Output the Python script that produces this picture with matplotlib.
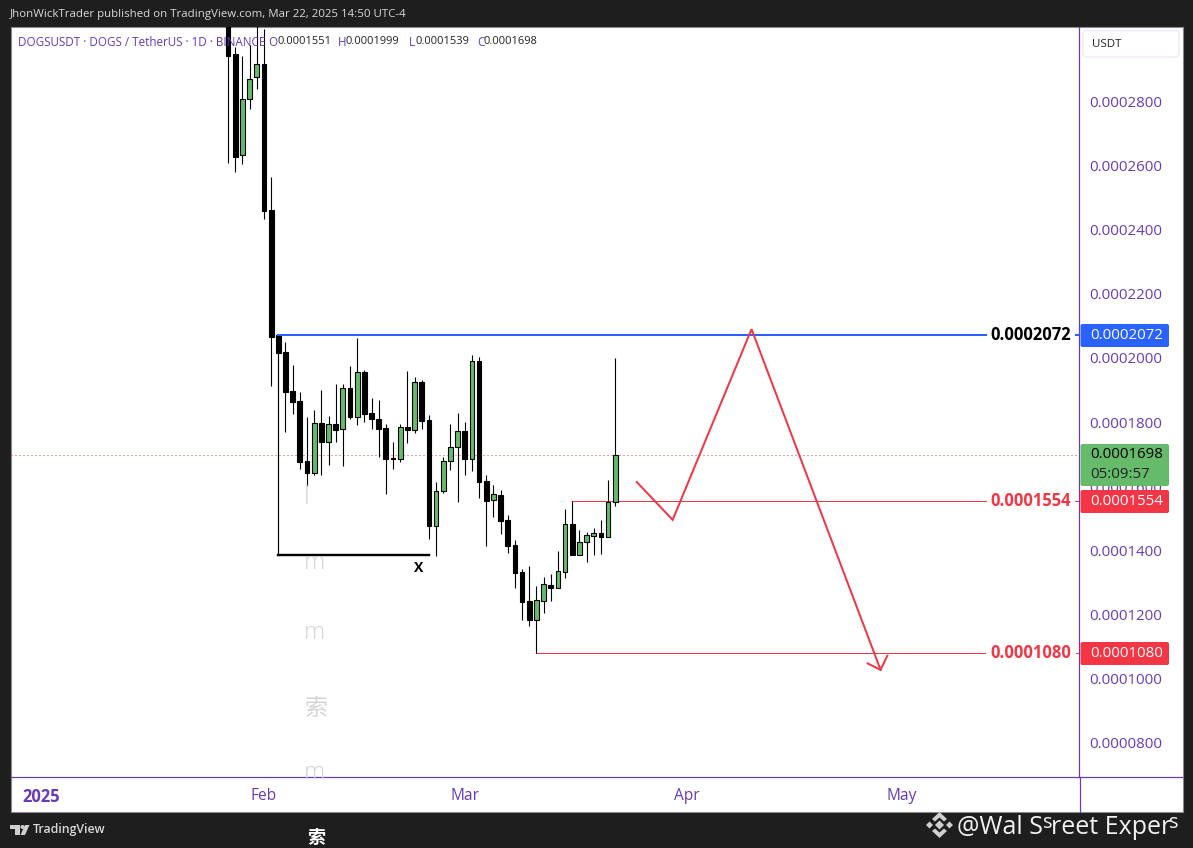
import matplotlib
matplotlib.use('Agg')
import matplotlib.pyplot as plt
import matplotlib.dates as mdates
from matplotlib.patches import Rectangle, Polygon, FancyBboxPatch, Circle
import numpy as np
from datetime import date, timedelta

# All prices are in units of 0.0000001 USDT
first_day = date(2025, 1, 27)
opens = [3100, 2948, 2632, 2807, 2876, 2916, 2462, 2072, 2018, 1897, 1866, 1679, 1642, 1796, 1739, 1793,
         1778, 1905, 1817, 1955, 1827, 1810, 1781, 1688, 1684, 1784, 1776, 1924, 1806, 1477, 1586, 1678,
         1721, 1771, 1686, 1990, 1615, 1558, 1572, 1494, 1416, 1331, 1241, 1184, 1243, 1291, 1283, 1333,
         1481, 1386, 1425, 1446, 1453, 1443, 1551]
closes = [2943, 2628, 2807, 2870, 2916, 2460, 2065, 2017, 1895, 1864, 1676, 1642, 1796, 1739, 1793, 1776,
          1905, 1817, 1955, 1826, 1811, 1779, 1686, 1686, 1784, 1776, 1924, 1804, 1477, 1586, 1678, 1721,
          1771, 1686, 1990, 1614, 1555, 1575, 1492, 1414, 1330, 1240, 1184, 1244, 1294, 1283, 1334, 1481,
          1386, 1425, 1447, 1453, 1443, 1550, 1698]
highs = [3200, 2970, 2942, 2977, 3060, 3026, 2566, 2072, 2049, 1978, 1893, 1815, 1838, 1900, 1819, 1919,
         1919, 1975, 2061, 1963, 1874, 1869, 1793, 1737, 1793, 1959, 1940, 1931, 1822, 1612, 1692, 1793,
         1827, 1799, 2009, 2002, 1635, 1604, 1588, 1509, 1432, 1341, 1350, 1288, 1316, 1326, 1398, 1529,
         1554, 1463, 1457, 1470, 1495, 1619, 1999]
lows = [2609, 2581, 2606, 2778, 2838, 2435, 1913, 2017, 1770, 1825, 1655, 1601, 1635, 1635, 1666, 1739,
        1663, 1810, 1791, 1801, 1779, 1692, 1577, 1655, 1676, 1736, 1767, 1779, 1435, 1383, 1578, 1651,
        1551, 1635, 1648, 1564, 1414, 1505, 1452, 1392, 1283, 1184, 1165, 1080, 1205, 1243, 1283, 1315,
        1386, 1386, 1364, 1386, 1388, 1443, 1539]

price_ticks = [800, 1000, 1200, 1400, 1600, 1800, 2000, 2200, 2400, 2600, 2800]
month_ticks = [date(2025, 1, 1), date(2025, 2, 1), date(2025, 3, 1), date(2025, 4, 1), date(2025, 5, 1)]
month_labels = ['2025', 'Feb', 'Mar', 'Apr', 'May']

# Drawn levels and the projected red path
level_resist = 2072
level_mid = 1554
level_low = 1080
last_close = 1698
range_low = 1385
path_days = [date(2025, 3, 25), date(2025, 3, 30), date(2025, 4, 10), date(2025, 4, 28)]
path_prices = [1613, 1495, 2090, 1027]

W, H = 1193, 848
DARK = '#1e1e1e'
PURPLE = '#673ab7'
GREEN = '#66bb6a'
RED = '#f23645'
BLUE = '#2962ff'
GHOST = '#d4d4d4'
LOGO = '#cfcfcf'
plt.rcParams['font.family'] = ['Open Sans', 'Noto Sans CJK SC', 'DejaVu Sans']


def px(size):
    return size * 0.72


def num(d):
    return mdates.date2num(d)


def draw_candles(ax):
    days = np.array([num(first_day + timedelta(days=i)) for i in range(len(opens))])
    o, c, h, l = map(np.array, (opens, closes, highs, lows))
    up = c >= o
    ax.vlines(days, l, h, color='black', lw=px(1.1), zorder=3)
    ax.bar(days, np.abs(c - o), bottom=np.minimum(o, c), width=0.66,
           color=np.where(up, GREEN, 'black'), edgecolor='black', lw=px(1.1), zorder=4)


def price_box(fig_ax, y, h, color, label, text_color='white', timer=None):
    fig_ax.add_patch(FancyBboxPatch((1080.5, y), 88.5, h, boxstyle='round,pad=0,rounding_size=2',
                                    fc=color, ec='none', zorder=6))
    if timer:
        fig_ax.text(1090, y + 11, label, color=text_color, fontsize=px(15), va='center', zorder=7)
        fig_ax.text(1090, y + 31, timer, color='#222222', fontsize=px(15), va='center', zorder=7)
    else:
        fig_ax.text(1090, y + h / 2, label, color=text_color, fontsize=px(15), va='center', zorder=7)


fig = plt.figure(figsize=(W / 100, H / 100), dpi=100, facecolor=DARK)

# White panel holding chart and both axes strips, coordinates in pixels
page = fig.add_axes([0, 0, 1, 1], zorder=0)
page.set_xlim(0, W)
page.set_ylim(H, 0)
page.axis('off')
page.add_patch(Rectangle((11, 27), 1171.5, 785, fc='white', ec='#8a8a8a', lw=0.8))

# Main price chart
ax = fig.add_axes([11 / W, 1 - 777 / H, (1079 - 11) / W, (777 - 27) / H], zorder=1)
ax.patch.set_alpha(0)
x_ref = num(date(2025, 3, 22))
ax.set_xlim(x_ref - 604.3 / 7.17, x_ref + 463.7 / 7.17)
ax.set_ylim(2000 - 419 * 3.12, 2000 + 331 * 3.12)
for name, spine in ax.spines.items():
    spine.set_visible(name in ('right', 'bottom'))
    spine.set_color(PURPLE)
    spine.set_linewidth(px(1.2))

draw_candles(ax)

# Levels
ax.axhline(last_close, color=RED, lw=px(1), ls=(0, (1, 3)), zorder=2)
d_start = num(date(2025, 2, 3))
ax.plot([d_start, ax.get_xlim()[1]], [level_resist] * 2, color=BLUE, lw=px(2), zorder=5)
ax.plot([num(date(2025, 3, 16)), ax.get_xlim()[1]], [level_mid] * 2, color=RED, lw=px(1), zorder=2)
ax.plot([num(date(2025, 3, 11)), ax.get_xlim()[1]], [level_low] * 2, color=RED, lw=px(1), zorder=2)

# Range marker under the February candles
ax.plot([d_start, d_start], [level_resist, range_low], color='black', lw=px(1.2), zorder=3)
ax.plot([d_start, num(date(2025, 2, 24))], [range_low, range_low], color='black', lw=px(2.4), zorder=3)

# Projected path with open arrow head
path_x = [num(d) for d in path_days]
ax.plot(path_x, path_prices, color=RED, lw=px(2), zorder=5, solid_joinstyle='miter')
ax.plot([path_x[-1] - 1.8, path_x[-1], path_x[-1] + 0.93], [path_prices[-1] + 20, path_prices[-1], path_prices[-1] + 44],
        color=RED, lw=px(2), zorder=5)

# Axes ticks and labels
ax.yaxis.tick_right()
ax.set_yticks(price_ticks)
ax.set_yticklabels([f'{v * 1e-7:.7f}' for v in price_ticks], color=PURPLE, fontsize=px(15))
ax.set_xticks([num(d) for d in month_ticks])
ax.set_xticklabels(month_labels, color=PURPLE, fontsize=px(15.5))
ax.get_xticklabels()[0].set_fontweight('bold')
ax.get_xticklabels()[0].set_fontsize(px(16.5))
ax.tick_params(axis='both', length=0)
ax.tick_params(axis='y', pad=7.6)
ax.tick_params(axis='x', pad=8)

# Top layer for labels, in pixels
top = fig.add_axes([0, 0, 1, 1], zorder=2)
top.set_xlim(0, W)
top.set_ylim(H, 0)
top.axis('off')

# Axis strip separators running past the chart
top.plot([1079.5, 1079.5], [777, 811.5], color=PURPLE, lw=px(1.2))
top.plot([1079, 1182], [777, 777], color=PURPLE, lw=px(1.2))

# USDT box
top.add_patch(FancyBboxPatch((1083, 30.5), 96, 26.5, boxstyle='round,pad=0,rounding_size=4',
                             fc='white', ec='#f1ebf7', lw=1.2))
top.text(1092, 44.5, 'USDT', color='#222222', fontsize=px(11.5), va='center')

# Right-side price flags
price_box(top, 324, 23, BLUE, f'{level_resist * 1e-7:.7f}')
price_box(top, 444, 42, GREEN, f'{last_close * 1e-7:.7f}', text_color='black', timer='05:09:57')
price_box(top, 490, 23, RED, f'{level_mid * 1e-7:.7f}')
price_box(top, 642, 23, RED, f'{level_low * 1e-7:.7f}')

# Bold labels sitting on the lines
for y, value, color in [(335.5, level_resist, 'black'), (501.5, level_mid, RED), (653.5, level_low, RED)]:
    top.text(1031, y, f'{value * 1e-7:.7f}', color=color, fontsize=px(16.5), fontweight='bold', ha='center',
             va='center', bbox=dict(fc='white', ec='none', pad=3))

top.text(419, 568, 'X', color='black', fontsize=px(14), fontweight='bold', ha='center', va='center')

# Header and legend
top.text(10, 14.5, 'JhonWickTrader published on TradingView.com, Mar 22, 2025 14:50 UTC-4',
         color='#d8d8d8', fontsize=px(11.5), va='center')
top.text(18, 42, 'DOGSUSDT · DOGS / TetherUS · 1D · BINANCE', color=PURPLE, fontsize=px(11.6), va='center')
for tag, value, tx, vx in [('O', '0.0001551', 268, 277), ('H', '0.0001999', 338, 346),
                           ('L', '0.0001539', 409, 416), ('C', '0.0001698', 477, 484)]:
    top.text(tx, 42, tag, color=PURPLE, fontsize=px(11.6), va='center')
    top.text(vx, 42, value, color='#222222', fontsize=px(11.1), va='center')

# Faint leftover glyphs
for x, y, s, size in [(307, 497, 'l', 26), (315, 563, 'm', 24), (315, 633, 'm', 24), (316, 709, '索', 23), (315, 773, 'm', 24)]:
    top.text(x, y, s, color=GHOST, fontsize=px(size), ha='center', va='center', fontweight='light')
top.text(316, 838, '索', color='white', fontsize=px(18), ha='center', va='center', fontweight='bold')

# TradingView mark
top.text(33, 830, 'TradingView', color='#d8d8d8', fontsize=px(12.4), va='center', fontweight='semibold')
top.add_patch(Rectangle((10, 825), 10, 4, fc=LOGO, ec='none'))
top.add_patch(Rectangle((15, 825), 5, 10, fc=LOGO, ec='none'))
top.add_patch(Circle((22.5, 827), 2, fc=LOGO, ec='none'))
top.add_patch(Polygon([(25, 825), (29.5, 825), (25, 835), (20.5, 835)], fc=LOGO, ec='none'))

# Watermark with the diamond logo
for cx, cy, r in [(939.5, 825, 4.5), (929.5, 825, 3.5), (949.5, 825, 3.5)]:
    top.add_patch(Polygon([(cx - r, cy), (cx, cy - r), (cx + r, cy), (cx, cy + r)], fc=LOGO, ec='none'))
top.add_patch(Polygon([(939.5, 812), (947, 819), (944, 821.5), (939.5, 817.5), (935, 821.5), (932, 819)], fc=LOGO, ec='none'))
top.add_patch(Polygon([(939.5, 838), (947, 831), (944, 828.5), (939.5, 832.5), (935, 828.5), (932, 831)], fc=LOGO, ec='none'))
top.text(957, 827, '@Wal S', color='#f2f2f2', fontsize=px(25), va='center')
top.text(1043, 823, 's', color='#f2f2f2', fontsize=px(20), va='center')
top.text(1051, 827, 'reet Exper', color='#f2f2f2', fontsize=px(25), va='center')
top.text(1169, 823, 's', color='#f2f2f2', fontsize=px(20), va='center')

fig.savefig('out.png', dpi=100, facecolor=DARK)
